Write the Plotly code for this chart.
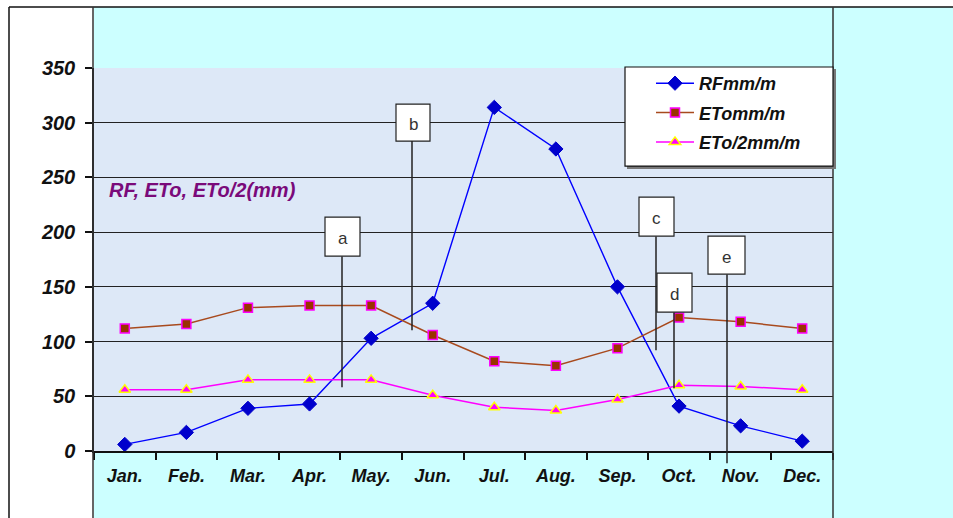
import plotly.graph_objects as go

# ---------------- data ----------------
months = ["Jan.", "Feb.", "Mar.", "Apr.", "May.", "Jun.", "Jul.", "Aug.", "Sep.", "Oct.", "Nov.", "Dec."]
rf_mm = [6, 17, 39, 43, 103, 135, 314, 276, 150, 41, 23, 9]
eto_mm = [112, 116, 131, 133, 133, 106, 82, 78, 94, 122, 118, 112]
eto_half_mm = [56, 56, 65, 65, 65, 51, 40, 37, 47, 60, 59, 56]
y_ticks = [0, 50, 100, 150, 200, 250, 300, 350]
series_names = ["RFmm/m", "ETomm/m", "ETo/2mm/m"]
axis_title = "RF, ETo, ETo/2(mm)"
box_labels = ["a", "b", "c", "d", "e"]

# ---------------- geometry helpers (pixel -> paper) ----------------
W, H = 953, 518
PL, PR, PT, PB = 94, 833, 68, 450.7


def X(px):
    return (px - PL) / (PR - PL)


def Y(py):
    return (PB - py) / (PB - PT)


FONT = "Liberation Sans, Arial, sans-serif"

fig = go.Figure()

fig.add_trace(go.Scatter(
    x=months, y=rf_mm, name=series_names[0], mode="lines+markers",
    legendgroup="g1",
    line=dict(color="#0000FF", width=1.4),
    marker=dict(symbol="diamond", size=11, color="#0000CC", line=dict(color="#0000CC", width=1)),
))
fig.add_trace(go.Scatter(
    x=months, y=eto_mm, name=series_names[1], mode="lines+markers",
    legendgroup="g2",
    line=dict(color="#A84A1E", width=1.5),
    marker=dict(symbol="square", size=9, color="#993300", line=dict(color="#FF00FF", width=1.5)),
))
fig.add_trace(go.Scatter(
    x=months, y=eto_half_mm, name=series_names[2], mode="lines+markers",
    legendgroup="g3",
    line=dict(color="#FF00FF", width=1.5),
    marker=dict(symbol="triangle-up", size=10, color="#FF00FF", line=dict(color="#FFFF00", width=1.5)),
))

shapes = []
# cyan chart area
shapes.append(dict(type="rect", xref="paper", yref="paper", layer="below",
                   x0=X(94), x1=X(W + 5), y0=Y(7), y1=Y(H + 5),
                   fillcolor="#CCFFFF", line=dict(width=0)))
# plot area background
shapes.append(dict(type="rect", xref="paper", yref="paper", layer="below",
                   x0=X(PL), x1=X(PR), y0=Y(PT), y1=Y(PB),
                   fillcolor="#DDE8F7", line=dict(width=0)))
# frame lines
for (x0, y0, x1, y1, col) in [
    (9, 7, W + 5, 7, "#111111"),
    (9, 7, 9, H + 5, "#111111"),
    (93, 7, 93, H + 5, "#333333"),
    (833, 7, 833, H + 5, "#333333"),
]:
    shapes.append(dict(type="line", xref="paper", yref="paper", layer="above",
                       x0=X(x0), x1=X(x1), y0=Y(y0), y1=Y(y1),
                       line=dict(color=col, width=1.5)))

# legend box (shadow + white box)
shapes.append(dict(type="rect", xref="paper", yref="paper", layer="above",
                   x0=X(627), x1=X(836), y0=Y(69), y1=Y(169),
                   fillcolor="#777777", line=dict(width=0)))
shapes.append(dict(type="rect", xref="paper", yref="paper", layer="above",
                   x0=X(625), x1=X(833), y0=Y(67), y1=Y(166),
                   fillcolor="white", line=dict(color="#111111", width=1.2)))

# callout boxes with leader lines
boxes = [
    (325, 360, 217, 256, 342, 387),
    (396, 430, 104, 141, 412, 330),
    (639, 674, 197, 236, 656, 350),
    (657, 692, 273, 312, 674, 388),
    (708, 745, 236, 274, 727, 463),
]
annotations = []
for lab, (bx0, bx1, by0, by1, lx, ly) in zip(box_labels, boxes):
    shapes.append(dict(type="line", xref="paper", yref="paper", layer="above",
                       x0=X(lx), x1=X(lx), y0=Y(by1), y1=Y(ly),
                       line=dict(color="#222222", width=1.5)))
    shapes.append(dict(type="rect", xref="paper", yref="paper", layer="above",
                       x0=X(bx0), x1=X(bx1), y0=Y(by0), y1=Y(by1),
                       fillcolor="white", line=dict(color="#222222", width=1.2)))
    annotations.append(dict(xref="paper", yref="paper", x=X((bx0 + bx1) / 2), y=Y((by0 + by1) / 2 + 2),
                            text=lab, showarrow=False, xanchor="center", yanchor="middle",
                            font=dict(family=FONT, size=17, color="#333333")))

annotations.append(dict(xref="paper", yref="paper", x=X(107), y=Y(190), text=axis_title,
                        showarrow=False, xanchor="left", yanchor="middle",
                        font=dict(family=FONT, size=20, color="#7A0A7A", weight="bold", style="italic")))

fig.update_layout(
    width=W, height=H,
    margin=dict(l=PL, r=W - PR, t=PT, b=H - PB),
    paper_bgcolor="white",
    plot_bgcolor="rgba(0,0,0,0)",
    shapes=shapes,
    annotations=annotations,
    showlegend=True,
    legend=dict(
        x=X(651), y=Y(65), xanchor="left", yanchor="top",
        bgcolor="rgba(0,0,0,0)", borderwidth=0,
        itemwidth=38, traceorder="grouped", tracegroupgap=3,
        font=dict(family=FONT, size=18, color="#111111", weight="bold", style="italic"),
    ),
    xaxis=dict(
        type="category", range=[-0.5, 11.5],
        showgrid=False, showline=True, linecolor="#111111", linewidth=1.5,
        ticks="outside", tickson="boundaries", ticklen=7, tickcolor="#111111", tickwidth=1.5,
        ticklabelstandoff=8,
        tickfont=dict(family=FONT, size=18, color="#111111", weight="bold", style="italic"),
    ),
    yaxis=dict(
        range=[0, 350], tickvals=y_ticks,
        showgrid=True, gridcolor="#222222", gridwidth=1.3,
        zeroline=False,
        showline=True, linecolor="#222222", linewidth=1.5,
        ticks="outside", ticklen=7, tickcolor="#111111", tickwidth=1.5,
        ticklabelstandoff=6,
        tickfont=dict(family=FONT, size=20, color="#111111", weight="bold", style="italic"),
    ),
)

fig.write_html(
    "out.html",
    config={"displayModeBar": False},
    post_script="document.body.style.margin='0';document.body.style.padding='0';document.body.style.overflow='hidden';",
)
